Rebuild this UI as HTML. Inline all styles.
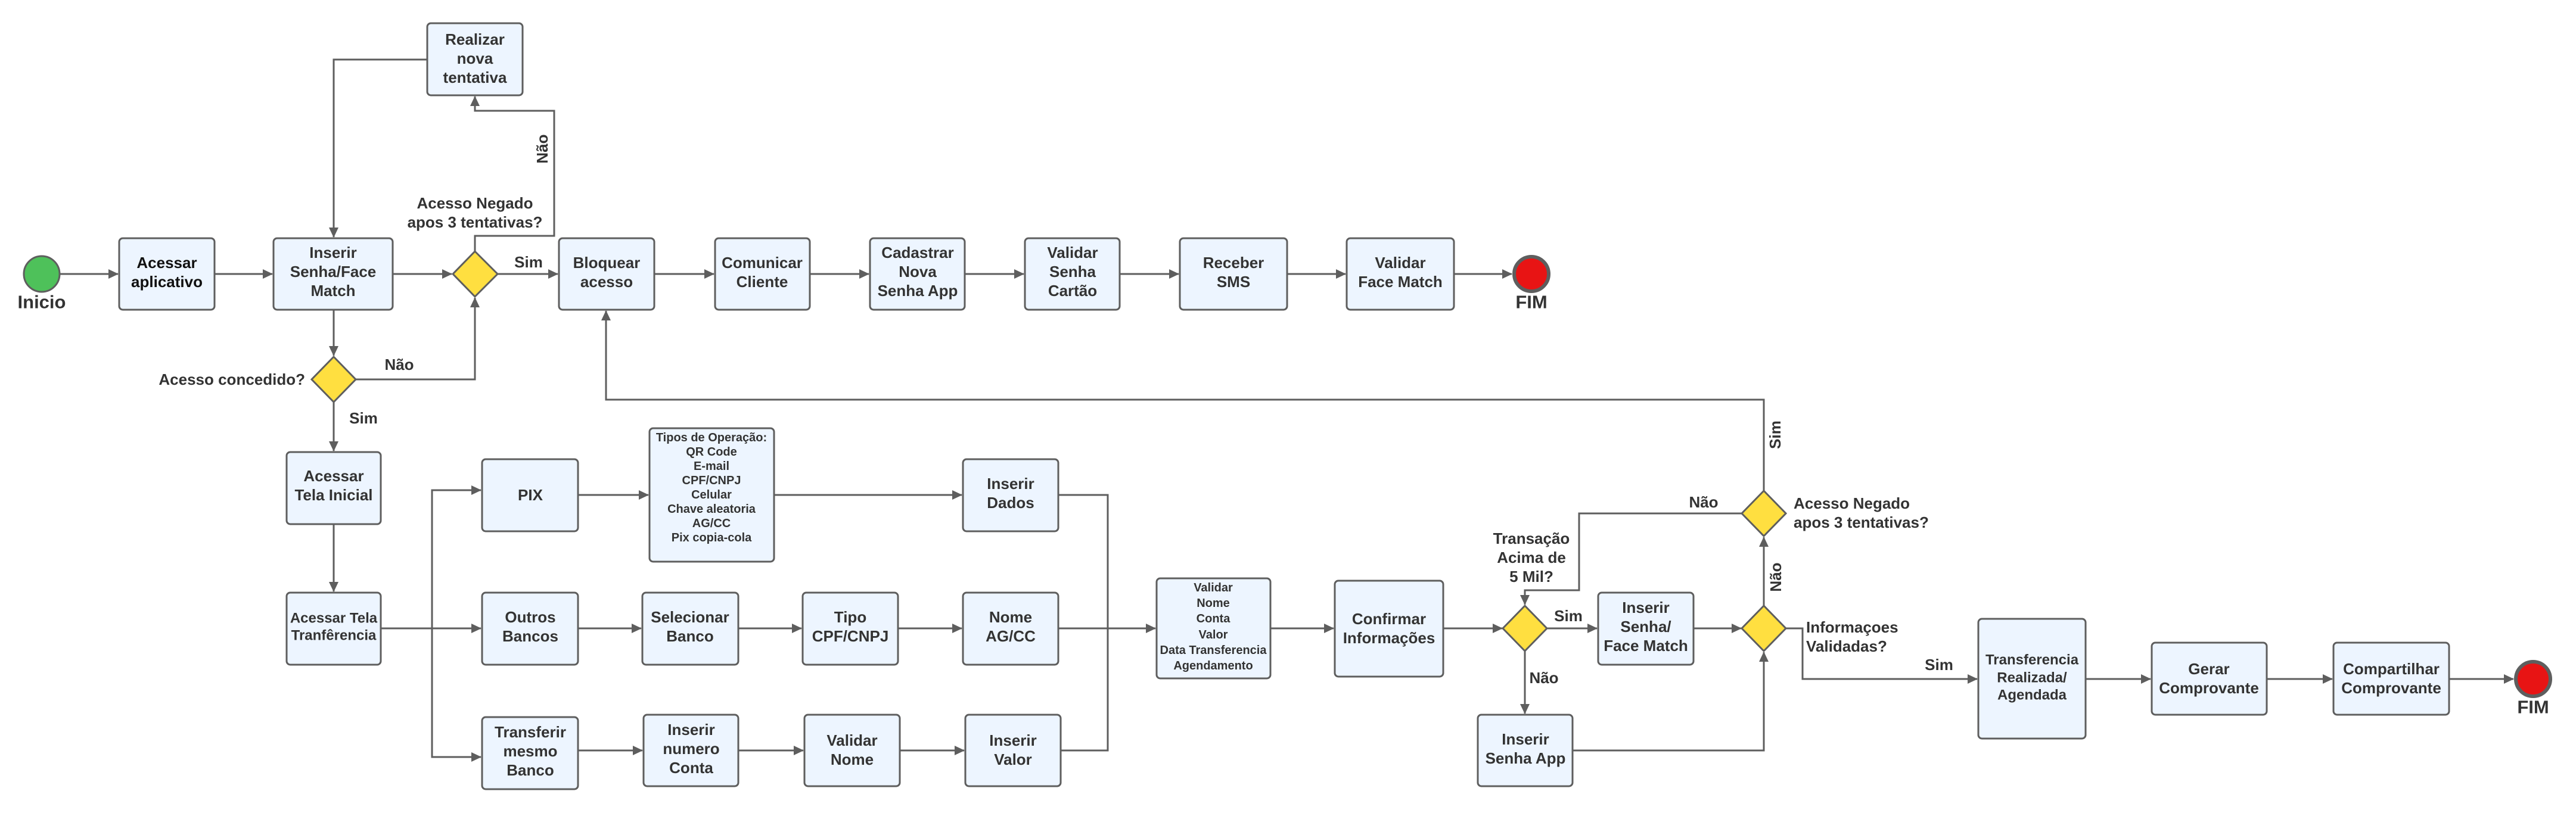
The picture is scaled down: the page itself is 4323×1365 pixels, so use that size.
<!DOCTYPE html>
<html><head><meta charset="utf-8"><style>
html,body{margin:0;padding:0;background:#fff;}
svg{display:block;}
text{font-family:"Liberation Sans",sans-serif;font-weight:bold;fill:#333;}
.b{fill:#edf5ff;stroke:#5e5e5e;stroke-width:3;}
.d{fill:#ffdf40;stroke:#5e5e5e;stroke-width:3;}
.l{fill:none;stroke:#5e5e5e;stroke-width:3;}
.t{font-size:26px;text-anchor:middle;dominant-baseline:central;}
.s{font-size:20px;text-anchor:middle;dominant-baseline:central;}
.g{font-size:26px;dominant-baseline:central;}
</style></head><body>
<svg width="4323" height="1365" viewBox="0 0 4323 1365" xmlns="http://www.w3.org/2000/svg">
<defs><marker id="a" markerUnits="userSpaceOnUse" markerWidth="18" markerHeight="16" refX="16" refY="8" orient="auto"><path d="M0,0 L17,8 L0,16 Z" fill="#5e5e5e"/></marker></defs>

<!-- connectors -->
<path class="l" d="M1776,831 H1859 V1260 H1780"/>
<g class="l" marker-end="url(#a)">
<path d="M100,460 H198"/>
<path d="M360,460 H457"/>
<path d="M659,460 H758"/>
<path d="M835,460 H936"/>
<path d="M1098,460 H1198"/>
<path d="M1359,460 H1458"/>
<path d="M1619,460 H1718"/>
<path d="M1879,460 H1978"/>
<path d="M2160,460 H2258"/>
<path d="M2440,460 H2537"/>
<path d="M717,100 H560 V398"/>
<path d="M797,422 V396 H930 V186 H797 V162"/>
<path d="M560,520 V597"/>
<path d="M597,637 H797 V500"/>
<path d="M560,675 V757"/>
<path d="M560,880 V993"/>
<path d="M639,1055 H725 V823 H807"/>
<path d="M725,1055 H807"/>
<path d="M725,1055 V1271 H807"/>
<path d="M970,831 H1088"/>
<path d="M1299,831 H1614"/>
<path d="M970,1055 H1076"/>
<path d="M1239,1055 H1345"/>
<path d="M1507,1055 H1614"/>
<path d="M970,1260 H1078"/>
<path d="M1239,1260 H1348"/>
<path d="M1510,1260 H1618"/>
<path d="M1776,1055 H1939"/>
<path d="M2132,1055 H2238"/>
<path d="M2422,1055 H2521"/>
<path d="M2597,1055 H2680"/>
<path d="M2842,1055 H2922"/>
<path d="M2559,1093 V1198"/>
<path d="M2639,1260 H2960 V1095"/>
<path d="M2960,1017 V902"/>
<path d="M2924,862 H2650 V991 H2559 V1015"/>
<path d="M2960,824 V671 H1017 V522"/>
<path d="M2996,1055 H3025 V1140 H3318"/>
<path d="M3500,1140 H3609"/>
<path d="M3804,1140 H3914"/>
<path d="M4110,1140 H4218"/>
</g>

<!-- start/end -->
<circle cx="70" cy="460" r="30" fill="#4ec15a" stroke="#5e5e5e" stroke-width="3"/>
<text x="70" y="507" class="t" style="font-size:31px">Inicio</text>
<circle cx="2570" cy="460" r="29" fill="#e81414" stroke="#5e5e5e" stroke-width="6"/>
<text x="2570" y="507" class="t" style="font-size:31px">FIM</text>
<circle cx="4251" cy="1140" r="29" fill="#e81414" stroke="#5e5e5e" stroke-width="6"/>
<text x="4251" y="1187" class="t" style="font-size:31px">FIM</text>

<!-- diamonds -->
<polygon class="d" points="797,422 835,460 797,498 760,460"/>
<polygon class="d" points="560,599 597,637 560,675 523,637"/>
<polygon class="d" points="2559,1017 2596,1055 2559,1093 2522,1055"/>
<polygon class="d" points="2960,1017 2997,1055 2960,1093 2923,1055"/>
<polygon class="d" points="2960,824 2997,862 2960,900 2923,862"/>

<!-- boxes -->
<g class="b">
<rect x="200" y="400" width="160" height="120" rx="6"/>
<rect x="459" y="400" width="200" height="120" rx="6"/>
<rect x="717" y="39" width="160" height="121" rx="6"/>
<rect x="938" y="400" width="160" height="120" rx="6"/>
<rect x="1200" y="400" width="159" height="120" rx="6"/>
<rect x="1460" y="400" width="159" height="120" rx="6"/>
<rect x="1720" y="400" width="159" height="120" rx="6"/>
<rect x="1980" y="400" width="180" height="120" rx="6"/>
<rect x="2260" y="400" width="180" height="120" rx="6"/>
<rect x="481" y="759" width="158" height="121" rx="6"/>
<rect x="481" y="995" width="158" height="121" rx="6"/>
<rect x="809" y="771" width="161" height="121" rx="6"/>
<rect x="1090" y="719" width="209" height="224" rx="6"/>
<rect x="1616" y="771" width="160" height="121" rx="6"/>
<rect x="809" y="995" width="161" height="121" rx="6"/>
<rect x="1078" y="995" width="161" height="121" rx="6"/>
<rect x="1347" y="995" width="160" height="121" rx="6"/>
<rect x="1616" y="995" width="160" height="121" rx="6"/>
<rect x="809" y="1204" width="161" height="121" rx="6"/>
<rect x="1080" y="1200" width="159" height="120" rx="6"/>
<rect x="1350" y="1200" width="160" height="120" rx="6"/>
<rect x="1620" y="1200" width="160" height="120" rx="6"/>
<rect x="1941" y="971" width="191" height="168" rx="6"/>
<rect x="2240" y="975" width="182" height="161" rx="6"/>
<rect x="2682" y="995" width="160" height="121" rx="6"/>
<rect x="2480" y="1200" width="159" height="120" rx="6"/>
<rect x="3320" y="1039" width="180" height="201" rx="6"/>
<rect x="3611" y="1079" width="193" height="121" rx="6"/>
<rect x="3916" y="1079" width="194" height="121" rx="6"/>
</g>

<!-- box text -->
<g class="t">
<text x="280" y="441" style="fill:#111">Acessar</text><text x="280" y="473" style="fill:#111">aplicativo</text>
<text x="559" y="424">Inserir</text><text x="559" y="456">Senha/Face</text><text x="559" y="488">Match</text>
<text x="797" y="66">Realizar</text><text x="797" y="98">nova</text><text x="797" y="130">tentativa</text>
<text x="1018" y="441">Bloquear</text><text x="1018" y="473">acesso</text>
<text x="1279" y="441">Comunicar</text><text x="1279" y="473">Cliente</text>
<text x="1540" y="424">Cadastrar</text><text x="1540" y="456">Nova</text><text x="1540" y="488">Senha App</text>
<text x="1800" y="424">Validar</text><text x="1800" y="456">Senha</text><text x="1800" y="488">Cartão</text>
<text x="2070" y="441">Receber</text><text x="2070" y="473">SMS</text>
<text x="2350" y="441">Validar</text><text x="2350" y="473">Face Match</text>
<text x="560" y="799">Acessar</text><text x="560" y="831">Tela Inicial</text>
<text x="560" y="1038" style="font-size:24px">Acessar Tela</text><text x="560" y="1067" style="font-size:24px">Tranfêrencia</text>
<text x="890" y="831">PIX</text>
<text x="1696" y="812">Inserir</text><text x="1696" y="844">Dados</text>
<text x="890" y="1036">Outros</text><text x="890" y="1068">Bancos</text>
<text x="1158" y="1036">Selecionar</text><text x="1158" y="1068">Banco</text>
<text x="1427" y="1036">Tipo</text><text x="1427" y="1068">CPF/CNPJ</text>
<text x="1696" y="1036">Nome</text><text x="1696" y="1068">AG/CC</text>
<text x="890" y="1229">Transferir</text><text x="890" y="1261">mesmo</text><text x="890" y="1293">Banco</text>
<text x="1160" y="1225">Inserir</text><text x="1160" y="1257">numero</text><text x="1160" y="1289">Conta</text>
<text x="1430" y="1243">Validar</text><text x="1430" y="1275">Nome</text>
<text x="1700" y="1243">Inserir</text><text x="1700" y="1275">Valor</text>
<text x="2331" y="1039">Confirmar</text><text x="2331" y="1071">Informações</text>
<text x="2762" y="1020">Inserir</text><text x="2762" y="1052">Senha/</text><text x="2762" y="1084">Face Match</text>
<text x="2560" y="1241">Inserir</text><text x="2560" y="1273">Senha App</text>
<text x="3410" y="1108" style="font-size:24px">Transferencia</text><text x="3410" y="1138" style="font-size:24px">Realizada/</text><text x="3410" y="1167" style="font-size:24px">Agendada</text>
<text x="3707" y="1123">Gerar</text><text x="3707" y="1155">Comprovante</text>
<text x="4013" y="1123">Compartilhar</text><text x="4013" y="1155">Comprovante</text>
</g>
<g class="s">
<text x="1194" y="735">Tipos de Operação:</text><text x="1194" y="759">QR Code</text><text x="1194" y="783">E-mail</text><text x="1194" y="807">CPF/CNPJ</text><text x="1194" y="831">Celular</text><text x="1194" y="855">Chave aleatoria</text><text x="1194" y="879">AG/CC</text><text x="1194" y="903">Pix copia-cola</text>
<text x="2036" y="987">Validar</text><text x="2036" y="1013">Nome</text><text x="2036" y="1039">Conta</text><text x="2036" y="1066">Valor</text><text x="2036" y="1092">Data Transferencia</text><text x="2036" y="1118">Agendamento</text>
</g>

<!-- labels -->
<g class="t">
<text x="797" y="341">Acesso Negado</text><text x="797" y="373">apos 3 tentativas?</text>
<text x="887" y="440">Sim</text>
<text x="670" y="612">Não</text>
<text x="610" y="702">Sim</text>
<text x="2570" y="904">Transação</text><text x="2570" y="936">Acima de</text><text x="2570" y="968">5 Mil?</text>
<text x="2632" y="1034">Sim</text>
<text x="2591" y="1138">Não</text>
<text x="2859" y="843">Não</text>
<text x="3254" y="1116">Sim</text>
<text transform="translate(910,250) rotate(-90)">Não</text>
<text transform="translate(2979,730) rotate(-90)">Sim</text>
<text transform="translate(2980,969) rotate(-90)">Não</text>
</g>
<text x="512" y="637" class="t" style="text-anchor:end">Acesso concedido?</text>
<text x="3010" y="845" class="g">Acesso Negado</text><text x="3010" y="877" class="g">apos 3 tentativas?</text>
<text x="3031" y="1053" class="g">Informaçoes</text><text x="3031" y="1085" class="g">Validadas?</text>
</svg>
</body></html>
